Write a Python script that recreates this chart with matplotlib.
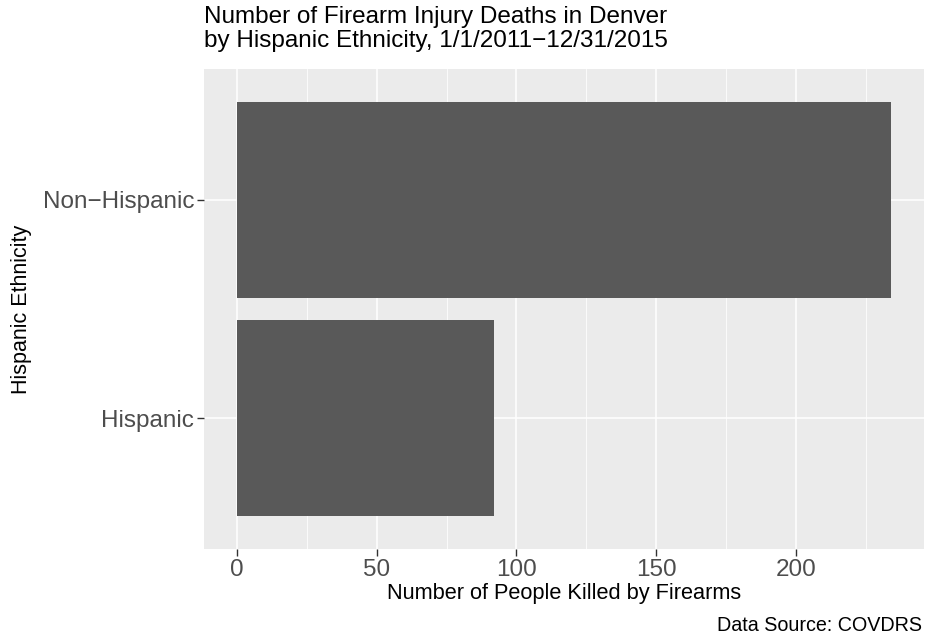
import matplotlib

matplotlib.use("Agg")
import matplotlib.pyplot as plt

# Data
categories = ["Hispanic", "Non\u2212Hispanic"]
deaths = [92, 234]
major_ticks = [0, 50, 100, 150, 200]
minor_ticks = [25, 75, 125, 175, 225]

TITLE = "Number of Firearm Injury Deaths in Denver\nby Hispanic Ethnicity, 1/1/2011\u221212/31/2015"
XLABEL = "Number of People Killed by Firearms"
YLABEL = "Hispanic Ethnicity"
CAPTION = "Data Source: COVDRS"

plt.rcParams["font.family"] = ["Liberation Sans", "DejaVu Sans"]

W, H = 925, 637
fig = plt.figure(figsize=(W / 100, H / 100), dpi=100)
# panel box in pixels: left 204, right 924, top 69, bottom 549
ax = fig.add_axes([204 / W, (H - 549) / H, 720 / W, 480 / H])
ax.set_facecolor("#EBEBEB")

ypos = list(range(1, len(categories) + 1))
ax.barh(ypos, deaths, height=0.9, color="#595959", zorder=3)

# ggplot-style expansion: 5% on continuous, 0.6 on discrete
xmax = max(deaths)
ax.set_xlim(-0.05 * xmax, 1.05 * xmax)
ax.set_ylim(0.4, len(categories) + 0.6)

ax.set_xticks(major_ticks)
ax.set_xticks(minor_ticks, minor=True)
ax.set_yticks(ypos)
ax.set_yticklabels(categories)

ax.grid(True, which="major", color="white", linewidth=1.1, zorder=0)
ax.grid(True, which="minor", axis="x", color="white", linewidth=0.55, zorder=0)
ax.set_axisbelow(True)

for s in ax.spines.values():
    s.set_visible(False)

ax.tick_params(axis="both", which="major", length=5, width=1.0, color="#333333",
               labelcolor="#4D4D4D", labelsize=17.5, pad=2)
ax.tick_params(axis="both", which="minor", length=0)

ax.set_xlabel(XLABEL, fontsize=15.7, color="black", labelpad=2)
ax.set_ylabel(YLABEL, fontsize=15.5, color="black", labelpad=8)

fig.text(204 / W, 1 - 6 / H, TITLE, ha="left", va="top", fontsize=17.5,
         color="black", linespacing=1.1)
fig.text(922 / W, 1 - 631 / H, CAPTION, ha="right", va="baseline", fontsize=14.2,
         color="black")

fig.savefig("out.png", dpi=100)
